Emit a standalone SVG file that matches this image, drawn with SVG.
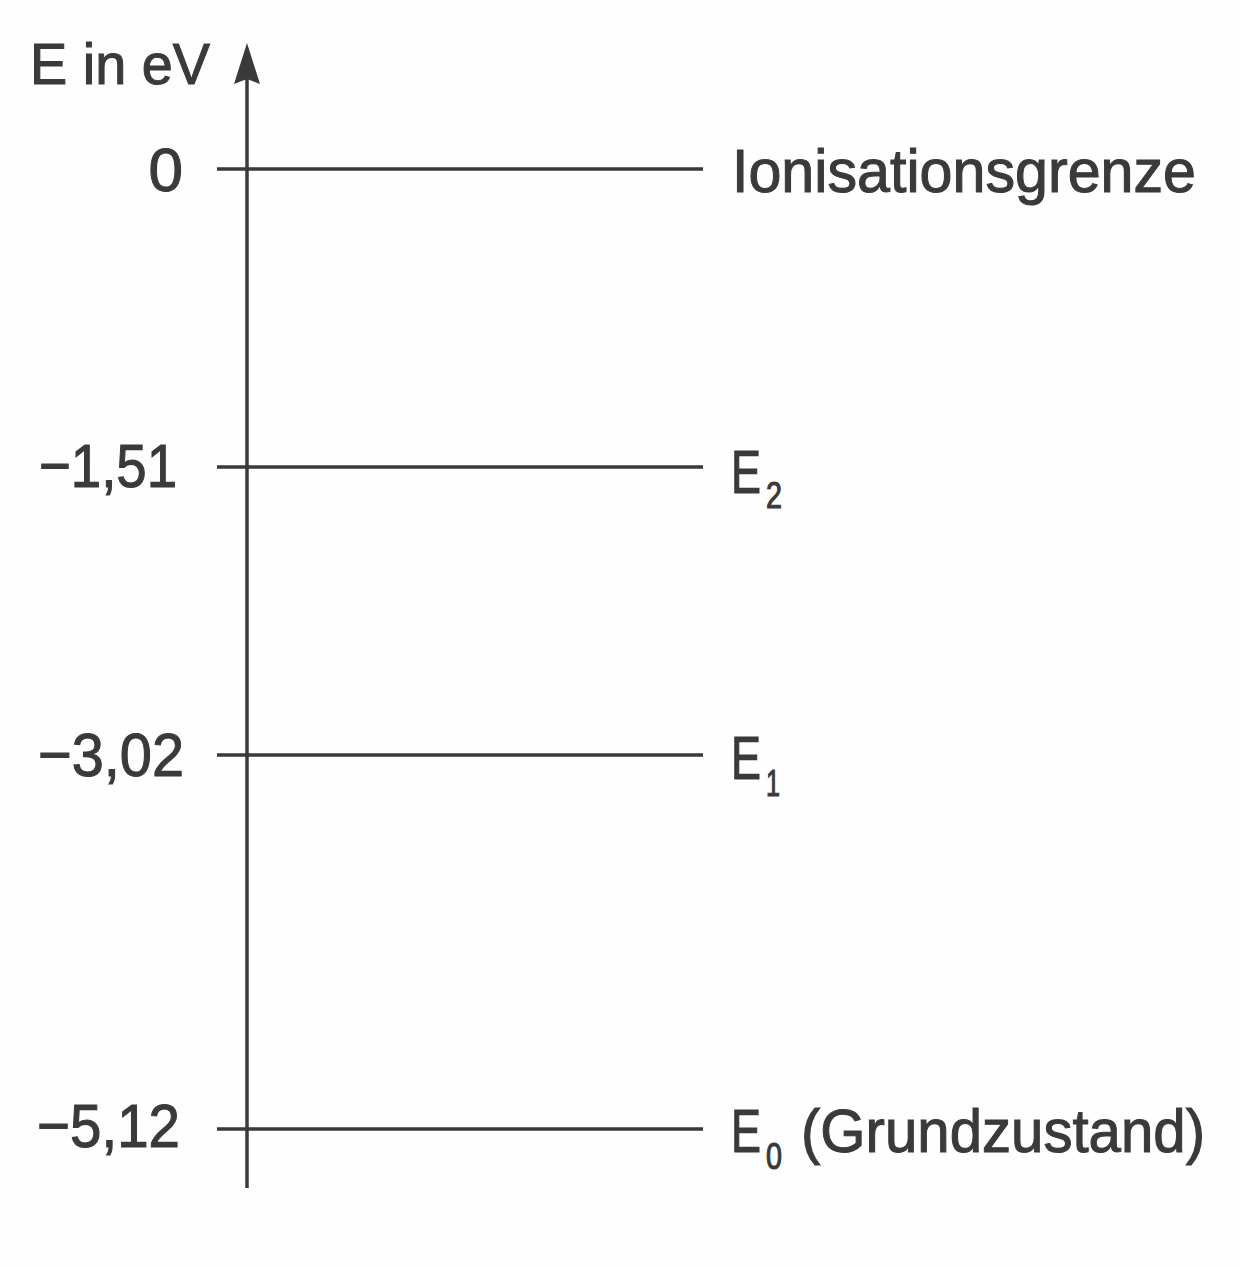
<svg xmlns="http://www.w3.org/2000/svg" width="1241" height="1268" viewBox="0 0 1241 1268">
<style>
.t{font-family:"Liberation Sans",Arial,sans-serif;fill:#3a3a3a;font-size:62px;stroke:#3a3a3a;stroke-width:1.1}
.n{text-anchor:end}
.s{font-size:36px}
.ln{stroke:#3a3a3a;stroke-width:3.5;fill:none}
</style>
<rect width="1241" height="1268" fill="#fefefe"/>
<g id="connectors">
<line class="ln" x1="247" y1="1188" x2="247" y2="70"/>
<polygon points="247,43 260,84 247,79 234,84" fill="#3a3a3a"/>
<line class="ln" x1="217" y1="169" x2="703" y2="169"/>
<line class="ln" x1="217" y1="467" x2="703" y2="467"/>
<line class="ln" x1="217" y1="755" x2="703" y2="755"/>
<line class="ln" x1="217" y1="1129" x2="703" y2="1129"/>
</g>
<g id="axis-label"><text class="t" x="30" y="84" style="font-size:57px" textLength="180" lengthAdjust="spacingAndGlyphs">E in eV</text></g>
<g id="tick-0"><text class="t n" x="183" y="191">0</text></g>
<g id="tick-151"><text class="t n" x="177" y="487" textLength="138" lengthAdjust="spacingAndGlyphs">−1,51</text></g>
<g id="tick-302"><text class="t n" x="184" y="776" textLength="146" lengthAdjust="spacingAndGlyphs">−3,02</text></g>
<g id="tick-512"><text class="t n" x="180" y="1147" textLength="143" lengthAdjust="spacingAndGlyphs">−5,12</text></g>
<g id="level-ion"><text class="t" x="732" y="192" textLength="464" lengthAdjust="spacingAndGlyphs">Ionisationsgrenze</text></g>
<g id="level-E2"><text class="t" x="731" y="493" textLength="30" lengthAdjust="spacingAndGlyphs">E</text><text class="t s" x="766" y="508" textLength="16" lengthAdjust="spacingAndGlyphs">2</text></g>
<g id="level-E1"><text class="t" x="731" y="779" textLength="30" lengthAdjust="spacingAndGlyphs">E</text><text class="t s" x="766" y="796" textLength="14" lengthAdjust="spacingAndGlyphs">1</text></g>
<g id="level-E0"><text class="t" x="731" y="1152" textLength="30" lengthAdjust="spacingAndGlyphs">E</text><text class="t s" x="766" y="1169" textLength="16" lengthAdjust="spacingAndGlyphs">0</text><text class="t" x="801" y="1152" textLength="404" lengthAdjust="spacingAndGlyphs">(Grundzustand)</text></g>
</svg>
